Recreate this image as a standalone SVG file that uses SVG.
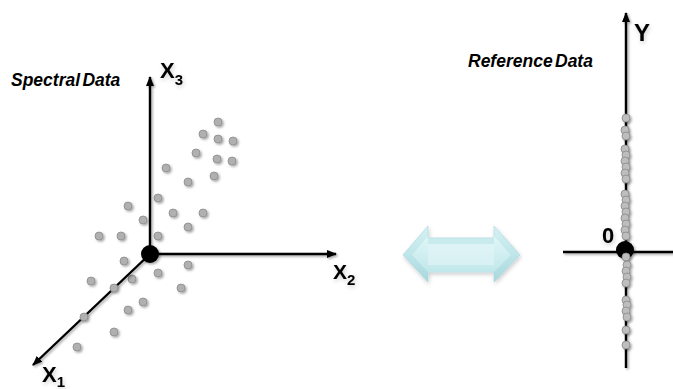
<svg xmlns="http://www.w3.org/2000/svg" width="673" height="389" viewBox="0 0 673 389">
  <defs>
    <filter id="shadow" x="-20%" y="-20%" width="160%" height="160%">
      <feDropShadow dx="1.5" dy="1.5" stdDeviation="1.2" flood-color="#000" flood-opacity="0.35"/>
    </filter>
    <filter id="softShadow" x="-20%" y="-30%" width="140%" height="160%">
      <feDropShadow dx="1" dy="2" stdDeviation="2" flood-color="#000" flood-opacity="0.2"/>
    </filter>
    <marker id="head" viewBox="0 0 10 8" refX="9" refY="4" markerWidth="4.2" markerHeight="3.4" markerUnits="strokeWidth" orient="auto">
      <path d="M0,0 L10,4 L0,8 Z" fill="#000"/>
    </marker>
    <linearGradient id="arrowFill" x1="0" y1="0" x2="0" y2="1">
      <stop offset="0" stop-color="#d6f1f3"/>
      <stop offset="0.5" stop-color="#bfe6ea"/>
      <stop offset="1" stop-color="#a7d8dd"/>
    </linearGradient>
    <linearGradient id="arrowFace" x1="0" y1="0" x2="0" y2="1">
      <stop offset="0" stop-color="#e4f7f8"/>
      <stop offset="1" stop-color="#c4e9ec"/>
    </linearGradient>
  </defs>
  <style>
    .axis { stroke: #000; stroke-width: 2.4; fill: none; }
    .pt { fill: #b0b0b0; stroke: #8c8c8c; stroke-width: 0.8; }
    .ypt { fill: #bdbdbd; stroke: #8a8a8a; stroke-width: 0.8; }
    .title { font-family: "Liberation Sans", Arial, sans-serif; font-weight: bold; font-style: italic; font-size: 17.5px; fill: #000; }
    .lbl { font-family: "Liberation Sans", Arial, sans-serif; font-weight: bold; fill: #000; }
  </style>

  <rect width="673" height="389" fill="#fff"/>

  <!-- left: three-dimensional spectral space -->
  <g id="spectral-title">
    <text class="title" x="11" y="86" word-spacing="-2.5">Spectral Data</text>
  </g>

  <g id="spectral-points" filter="url(#shadow)">
    <circle class="pt" cx="218" cy="122" r="4"/>
    <circle class="pt" cx="203" cy="134" r="4"/>
    <circle class="pt" cx="218" cy="139" r="4"/>
    <circle class="pt" cx="233" cy="141" r="4"/>
    <circle class="pt" cx="196" cy="153" r="4"/>
    <circle class="pt" cx="217" cy="159" r="4"/>
    <circle class="pt" cx="232" cy="161" r="4"/>
    <circle class="pt" cx="166" cy="168" r="4"/>
    <circle class="pt" cx="214" cy="176" r="4"/>
    <circle class="pt" cx="188" cy="182" r="4"/>
    <circle class="pt" cx="158" cy="198" r="4"/>
    <circle class="pt" cx="128" cy="206" r="4"/>
    <circle class="pt" cx="173" cy="213" r="4"/>
    <circle class="pt" cx="203" cy="213" r="4"/>
    <circle class="pt" cx="143" cy="220" r="4"/>
    <circle class="pt" cx="188" cy="227" r="4"/>
    <circle class="pt" cx="99" cy="236" r="4"/>
    <circle class="pt" cx="121" cy="236" r="4"/>
    <circle class="pt" cx="158" cy="236" r="4"/>
    <circle class="pt" cx="124" cy="261" r="4"/>
    <circle class="pt" cx="188" cy="265" r="4"/>
    <circle class="pt" cx="158" cy="273" r="4"/>
    <circle class="pt" cx="91" cy="281" r="4"/>
    <circle class="pt" cx="132" cy="279" r="4"/>
    <circle class="pt" cx="181" cy="288" r="4"/>
    <circle class="pt" cx="143" cy="302" r="4"/>
    <circle class="pt" cx="128" cy="310" r="4"/>
    <circle class="pt" cx="114" cy="332" r="4"/>
    <circle class="pt" cx="77" cy="347" r="4"/>
  </g>

  <g id="connectors">
    <g id="spectral-axes" filter="url(#shadow)">
      <line class="axis" x1="150" y1="254" x2="150" y2="77" marker-end="url(#head)"/>
      <line class="axis" x1="150" y1="254" x2="336" y2="254" marker-end="url(#head)"/>
      <line class="axis" x1="150" y1="254" x2="33" y2="365" marker-end="url(#head)"/>
    </g>
    <g id="reference-axes" filter="url(#shadow)">
      <line class="axis" x1="626" y1="368" x2="626" y2="13" marker-end="url(#head)"/>
      <line class="axis" x1="563" y1="252" x2="673" y2="252"/>
    </g>
  </g>

  <!-- points lying on the X1 axis -->
  <g id="axis-points" filter="url(#shadow)">
    <circle class="pt" cx="114" cy="288" r="4"/>
    <circle class="pt" cx="84" cy="317" r="4"/>
  </g>

  <g id="spectral-origin">
    <circle cx="150" cy="254" r="9" fill="#000" filter="url(#shadow)"/>
  </g>

  <g id="spectral-labels" class="lbl" filter="url(#softShadow)">
    <text x="160" y="78" font-size="22">X<tspan font-size="15" dy="7">3</tspan></text>
    <text x="333" y="279" font-size="21">X<tspan font-size="15" dy="6">2</tspan></text>
    <text x="42" y="382" font-size="22">X<tspan font-size="15" dy="5">1</tspan></text>
  </g>

  <!-- centre: two-way correspondence arrow -->
  <g id="mapping-arrow" filter="url(#softShadow)">
    <path d="M403,255 L428,226 L428,238 L494,238 L494,226 L520,255 L494,282 L494,272 L428,272 L428,282 Z" fill="url(#arrowFill)" stroke="#a6d6db" stroke-width="0.6"/>
    <path d="M412,255 L428,236 L428,244 L494,244 L494,236 L511,255 L494,272 L428,272 Z" fill="url(#arrowFace)" opacity="0.85"/>
    <path d="M428,244 L494,244 L494,265 L428,265 Z" fill="#dff4f6" opacity="0.7"/>
  </g>

  <!-- right: one-dimensional reference space -->
  <g id="reference-title">
    <text class="title" x="468" y="67" word-spacing="-2.5">Reference Data</text>
  </g>

  <g id="reference-points" filter="url(#shadow)">
    <circle class="ypt" cx="626" cy="118" r="4"/>
    <circle class="ypt" cx="625" cy="130" r="4"/>
    <circle class="ypt" cx="626" cy="136" r="4"/>
    <circle class="ypt" cx="625" cy="149" r="4"/>
    <circle class="ypt" cx="626" cy="155" r="4"/>
    <circle class="ypt" cx="625" cy="161" r="4"/>
    <circle class="ypt" cx="626" cy="167" r="4"/>
    <circle class="ypt" cx="625" cy="173" r="4"/>
    <circle class="ypt" cx="626" cy="179" r="4"/>
    <circle class="ypt" cx="625" cy="194" r="4"/>
    <circle class="ypt" cx="626" cy="200" r="4"/>
    <circle class="ypt" cx="625" cy="206" r="4"/>
    <circle class="ypt" cx="626" cy="212" r="4"/>
    <circle class="ypt" cx="625" cy="218" r="4"/>
    <circle class="ypt" cx="626" cy="224" r="4"/>
    <circle class="ypt" cx="625" cy="230" r="4"/>
    <circle class="ypt" cx="626" cy="236" r="4"/>
  </g>

  <g id="reference-origin">
    <circle cx="625" cy="250" r="9" fill="#000" filter="url(#shadow)"/>
  </g>

  <g id="reference-points-below" filter="url(#shadow)">
    <circle class="ypt" cx="626" cy="257" r="4"/>
    <circle class="ypt" cx="627" cy="265" r="4"/>
    <circle class="ypt" cx="626" cy="271" r="4"/>
    <circle class="ypt" cx="627" cy="277" r="4"/>
    <circle class="ypt" cx="626" cy="283" r="4"/>
    <circle class="ypt" cx="626" cy="300" r="4"/>
    <circle class="ypt" cx="627" cy="305" r="4"/>
    <circle class="ypt" cx="626" cy="311" r="4"/>
    <circle class="ypt" cx="627" cy="317" r="4"/>
    <circle class="ypt" cx="626" cy="330" r="4"/>
    <circle class="ypt" cx="626" cy="345" r="4"/>
  </g>

  <g id="reference-labels" class="lbl" filter="url(#softShadow)">
    <text x="634" y="41" font-size="24">Y</text>
    <text x="602" y="243" font-size="22">0</text>
  </g>
</svg>
